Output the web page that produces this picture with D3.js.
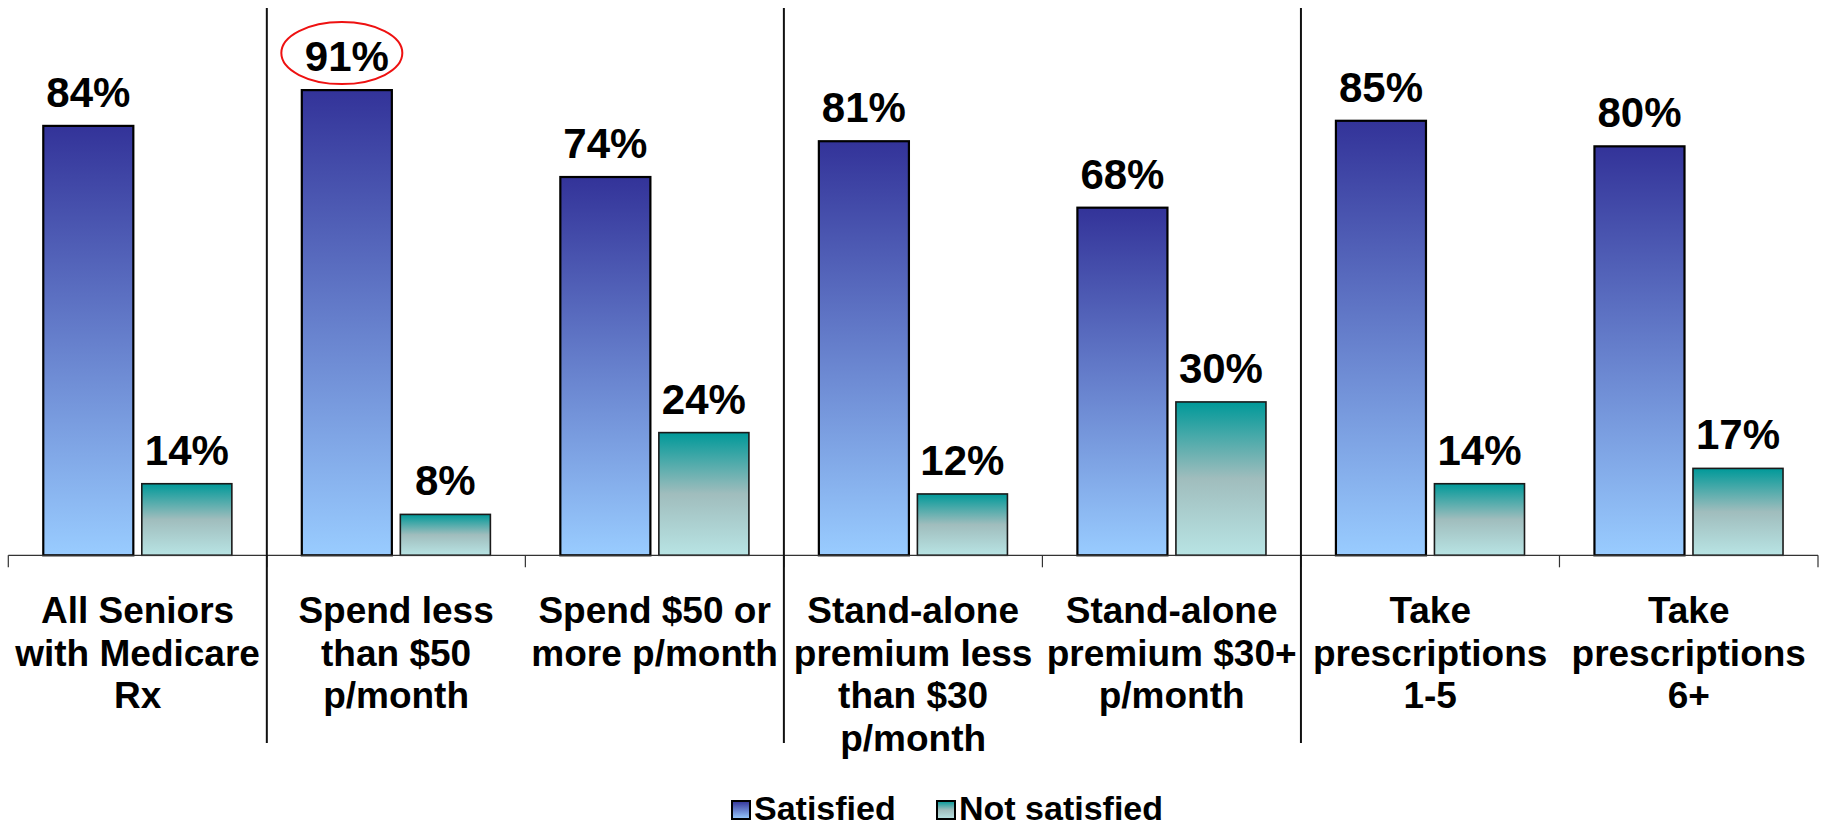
<!DOCTYPE html>
<html>
<head>
<meta charset="utf-8">
<script src="https://cdn.jsdelivr.net/npm/d3@7"></script>
<style>
  html, body { margin: 0; padding: 0; background: #ffffff; }
  svg { display: block; }
  text { font-family: "Liberation Sans", Arial, sans-serif; font-weight: bold; fill: #000; }
</style>
</head>
<body>
<svg id="chart" width="1822" height="827"></svg>
<script>
// ---- Data ----
const categories = [
  "All Seniors with Medicare Rx",
  "Spend less than $50 p/month",
  "Spend $50 or more p/month",
  "Stand-alone premium less than $30 p/month",
  "Stand-alone premium $30+ p/month",
  "Take prescriptions 1-5",
  "Take prescriptions 6+"
];
const categoryLines = [
  ["All Seniors", "with Medicare", "Rx"],
  ["Spend less", "than $50", "p/month"],
  ["Spend $50 or", "more p/month"],
  ["Stand-alone", "premium less", "than $30", "p/month"],
  ["Stand-alone", "premium $30+", "p/month"],
  ["Take", "prescriptions", "1-5"],
  ["Take", "prescriptions", "6+"]
];
const seriesNames = ["Satisfied", "Not satisfied"];
const satisfied = [84, 91, 74, 81, 68, 85, 80];
const notSatisfied = [14, 8, 24, 12, 30, 14, 17];
const highlightIndex = 1; // circled value (91%)
const groupSeparatorsAfter = [0, 2, 4]; // full-height dividers after these categories

// ---- Layout ----
const svg = d3.select("#chart");
const plotLeft = 8.3, plotRight = 1818, baseline = 555.3, top100 = 44.1;

const x0 = d3.scaleBand().domain(d3.range(categories.length)).range([plotLeft, plotRight]).padding(0);
const x1 = d3.scaleBand().domain(seriesNames).range([0, x0.bandwidth()]).paddingInner(0.086).paddingOuter(0.355);
const y = d3.scaleLinear().domain([0, 100]).range([baseline, top100]);

// ---- Gradients ----
const defs = svg.append("defs");
function grad(id, stops) {
  const g = defs.append("linearGradient").attr("id", id)
    .attr("x1", 0).attr("y1", 0).attr("x2", 0).attr("y2", 1);
  stops.forEach(s => g.append("stop").attr("offset", s[0]).attr("stop-color", s[1]));
}
grad("gSat", [[0, "#333399"], [1, "#99ccff"]]);
grad("gNot", [[0, "#009999"], [0.5, "#a0bdbd"], [1, "#b8e4e4"]]);
const fills = { "Satisfied": "url(#gSat)", "Not satisfied": "url(#gNot)" };
const strokes = { "Satisfied": { c: "#000", w: 2.2 }, "Not satisfied": { c: "#1a1a1a", w: 1.6 } };

// ---- Bars ----
const rows = categories.map((c, i) => ({
  i, values: [
    { s: "Satisfied", v: satisfied[i] },
    { s: "Not satisfied", v: notSatisfied[i] }
  ]
}));

const groups = svg.append("g").selectAll("g").data(rows).join("g")
  .attr("transform", d => `translate(${x0(d.i)},0)`);

groups.selectAll("rect").data(d => d.values).join("rect")
  .attr("x", d => x1(d.s))
  .attr("y", d => y(d.v))
  .attr("width", x1.bandwidth())
  .attr("height", d => y(0) - y(d.v))
  .attr("fill", d => fills[d.s])
  .attr("stroke", d => strokes[d.s].c)
  .attr("stroke-width", d => strokes[d.s].w);

groups.selectAll("text.val").data(d => d.values).join("text")
  .attr("class", "val")
  .attr("x", d => x1(d.s) + x1.bandwidth() / 2)
  .attr("y", d => y(d.v) - 19)
  .attr("text-anchor", "middle")
  .attr("font-size", 42)
  .text(d => d.v + "%");

// ---- Axis ----
const axisG = svg.append("g").attr("transform", `translate(0,${baseline})`);
axisG.append("line").attr("x1", plotLeft).attr("x2", plotRight).attr("y1", 0).attr("y2", 0)
  .attr("stroke", "#333").attr("stroke-width", 1.2);
const boundaries = d3.range(categories.length + 1).map(k => k === categories.length ? plotRight : x0(k));
axisG.selectAll("line.tick").data(boundaries).join("line").attr("class", "tick")
  .attr("x1", d => d).attr("x2", d => d).attr("y1", 0).attr("y2", 12)
  .attr("stroke", "#333").attr("stroke-width", 1.2);

// group dividers
svg.append("g").selectAll("line").data(groupSeparatorsAfter).join("line")
  .attr("x1", d => x0(d + 1)).attr("x2", d => x0(d + 1))
  .attr("y1", 8).attr("y2", 743)
  .attr("stroke", "#111").attr("stroke-width", 2);

// category labels
const labG = svg.append("g");
categoryLines.forEach((lines, i) => {
  const t = labG.append("text")
    .attr("x", x0(i) + x0.bandwidth() / 2)
    .attr("y", 623)
    .attr("text-anchor", "middle")
    .attr("font-size", 37);
  lines.forEach((ln, k) => {
    t.append("tspan").attr("x", x0(i) + x0.bandwidth() / 2).attr("y", 623 + k * 42.5).text(ln);
  });
});

// ---- Highlight ellipse ----
svg.append("ellipse")
  .attr("cx", x0(highlightIndex) + x1("Satisfied") + x1.bandwidth() / 2 - 5)
  .attr("cy", y(satisfied[highlightIndex]) - 37)
  .attr("rx", 60.5).attr("ry", 31)
  .attr("fill", "none").attr("stroke", "#ee1111").attr("stroke-width", 2);

// ---- Legend ----
const legendItems = [
  { s: "Satisfied", x: 732 },
  { s: "Not satisfied", x: 937 }
];
const lg = svg.append("g");
legendItems.forEach(it => {
  lg.append("rect").attr("x", it.x).attr("y", 801).attr("width", 18).attr("height", 18)
    .attr("fill", fills[it.s]).attr("stroke", "#000").attr("stroke-width", 2);
  lg.append("text").attr("x", it.x + 22).attr("y", 820).attr("font-size", 34).text(it.s);
});
</script>
</body>
</html>
